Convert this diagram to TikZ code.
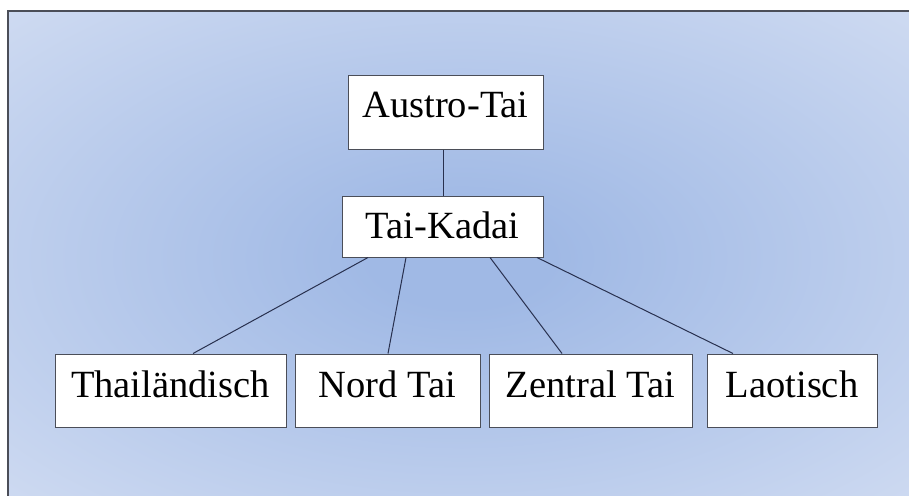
\documentclass[tikz,border=0pt]{standalone}
\usepackage{fontspec}
\setmainfont{Liberation Serif}
\usepackage{xcolor}
\usepackage{tikz}
\usetikzlibrary{positioning}

\definecolor{glowin}{RGB}{160,185,229}
\definecolor{glowout}{RGB}{228,234,247}
\definecolor{framegray}{RGB}{75,78,88}
\definecolor{edgeblue}{RGB}{40,48,78}
\pgfdeclareradialshading{bgglow}{\pgfpoint{0bp}{0bp}}{color(0bp)=(glowin); color(5bp)=(glowin); color(50bp)=(glowout); color(72bp)=(glowout)}

\begin{document}
\begin{tikzpicture}[x=1pt, y=-1pt,
  box/.style={draw=framegray, fill=white, line width=1pt, inner sep=0pt,
    font=\fontsize{38.5}{46}\selectfont, text height=26pt},
  link/.style={draw=edgeblue, line width=1pt}]
\useasboundingbox (0,0) rectangle (909,495);
\fill[white] (0,0) rectangle (909,495);
\begin{scope}
\clip (0,0) rectangle (909,495);
\shade[shading=bgglow] (8,11) rectangle (915,505);
\draw[framegray, line width=1.6pt] (8,505) -- (8,11) -- (915,11);
\end{scope}

\node[box, minimum width=195pt, minimum height=74pt, text depth=14.6pt] (austro) at (445.5,112) {Austro-Tai};
\node[box, minimum width=201pt, minimum height=61pt, text depth=3pt] (kadai) at (442.5,226.5) {Tai-Kadai};
\node[box, minimum width=231pt, minimum height=73pt, text depth=13pt] (thai) at (170.5,390.5) {Thailändisch};
\node[box, minimum width=185pt, minimum height=73pt, text depth=13pt] (nord) at (387.5,390.5) {Nord Tai};
\node[box, minimum width=203pt, minimum height=73pt, text depth=13pt] (zentral) at (590.5,390.5) {Zentral Tai};
\node[box, minimum width=170pt, minimum height=73pt, text depth=13pt] (laos) at (792,390.5) {Laotisch};

\draw[link] ([xshift=-2.5pt]austro.south) -- ([xshift=0.5pt]kadai.north);
\draw[link] ([xshift=-74.5pt]kadai.south) -- ([xshift=22.5pt]thai.north);
\draw[link] ([xshift=-36.5pt]kadai.south) -- ([xshift=0.5pt]nord.north);
\draw[link] ([xshift=47.5pt]kadai.south) -- ([xshift=-28.5pt]zentral.north);
\draw[link] ([xshift=94.5pt]kadai.south) -- ([xshift=-59pt]laos.north);
\end{tikzpicture}
\end{document}
